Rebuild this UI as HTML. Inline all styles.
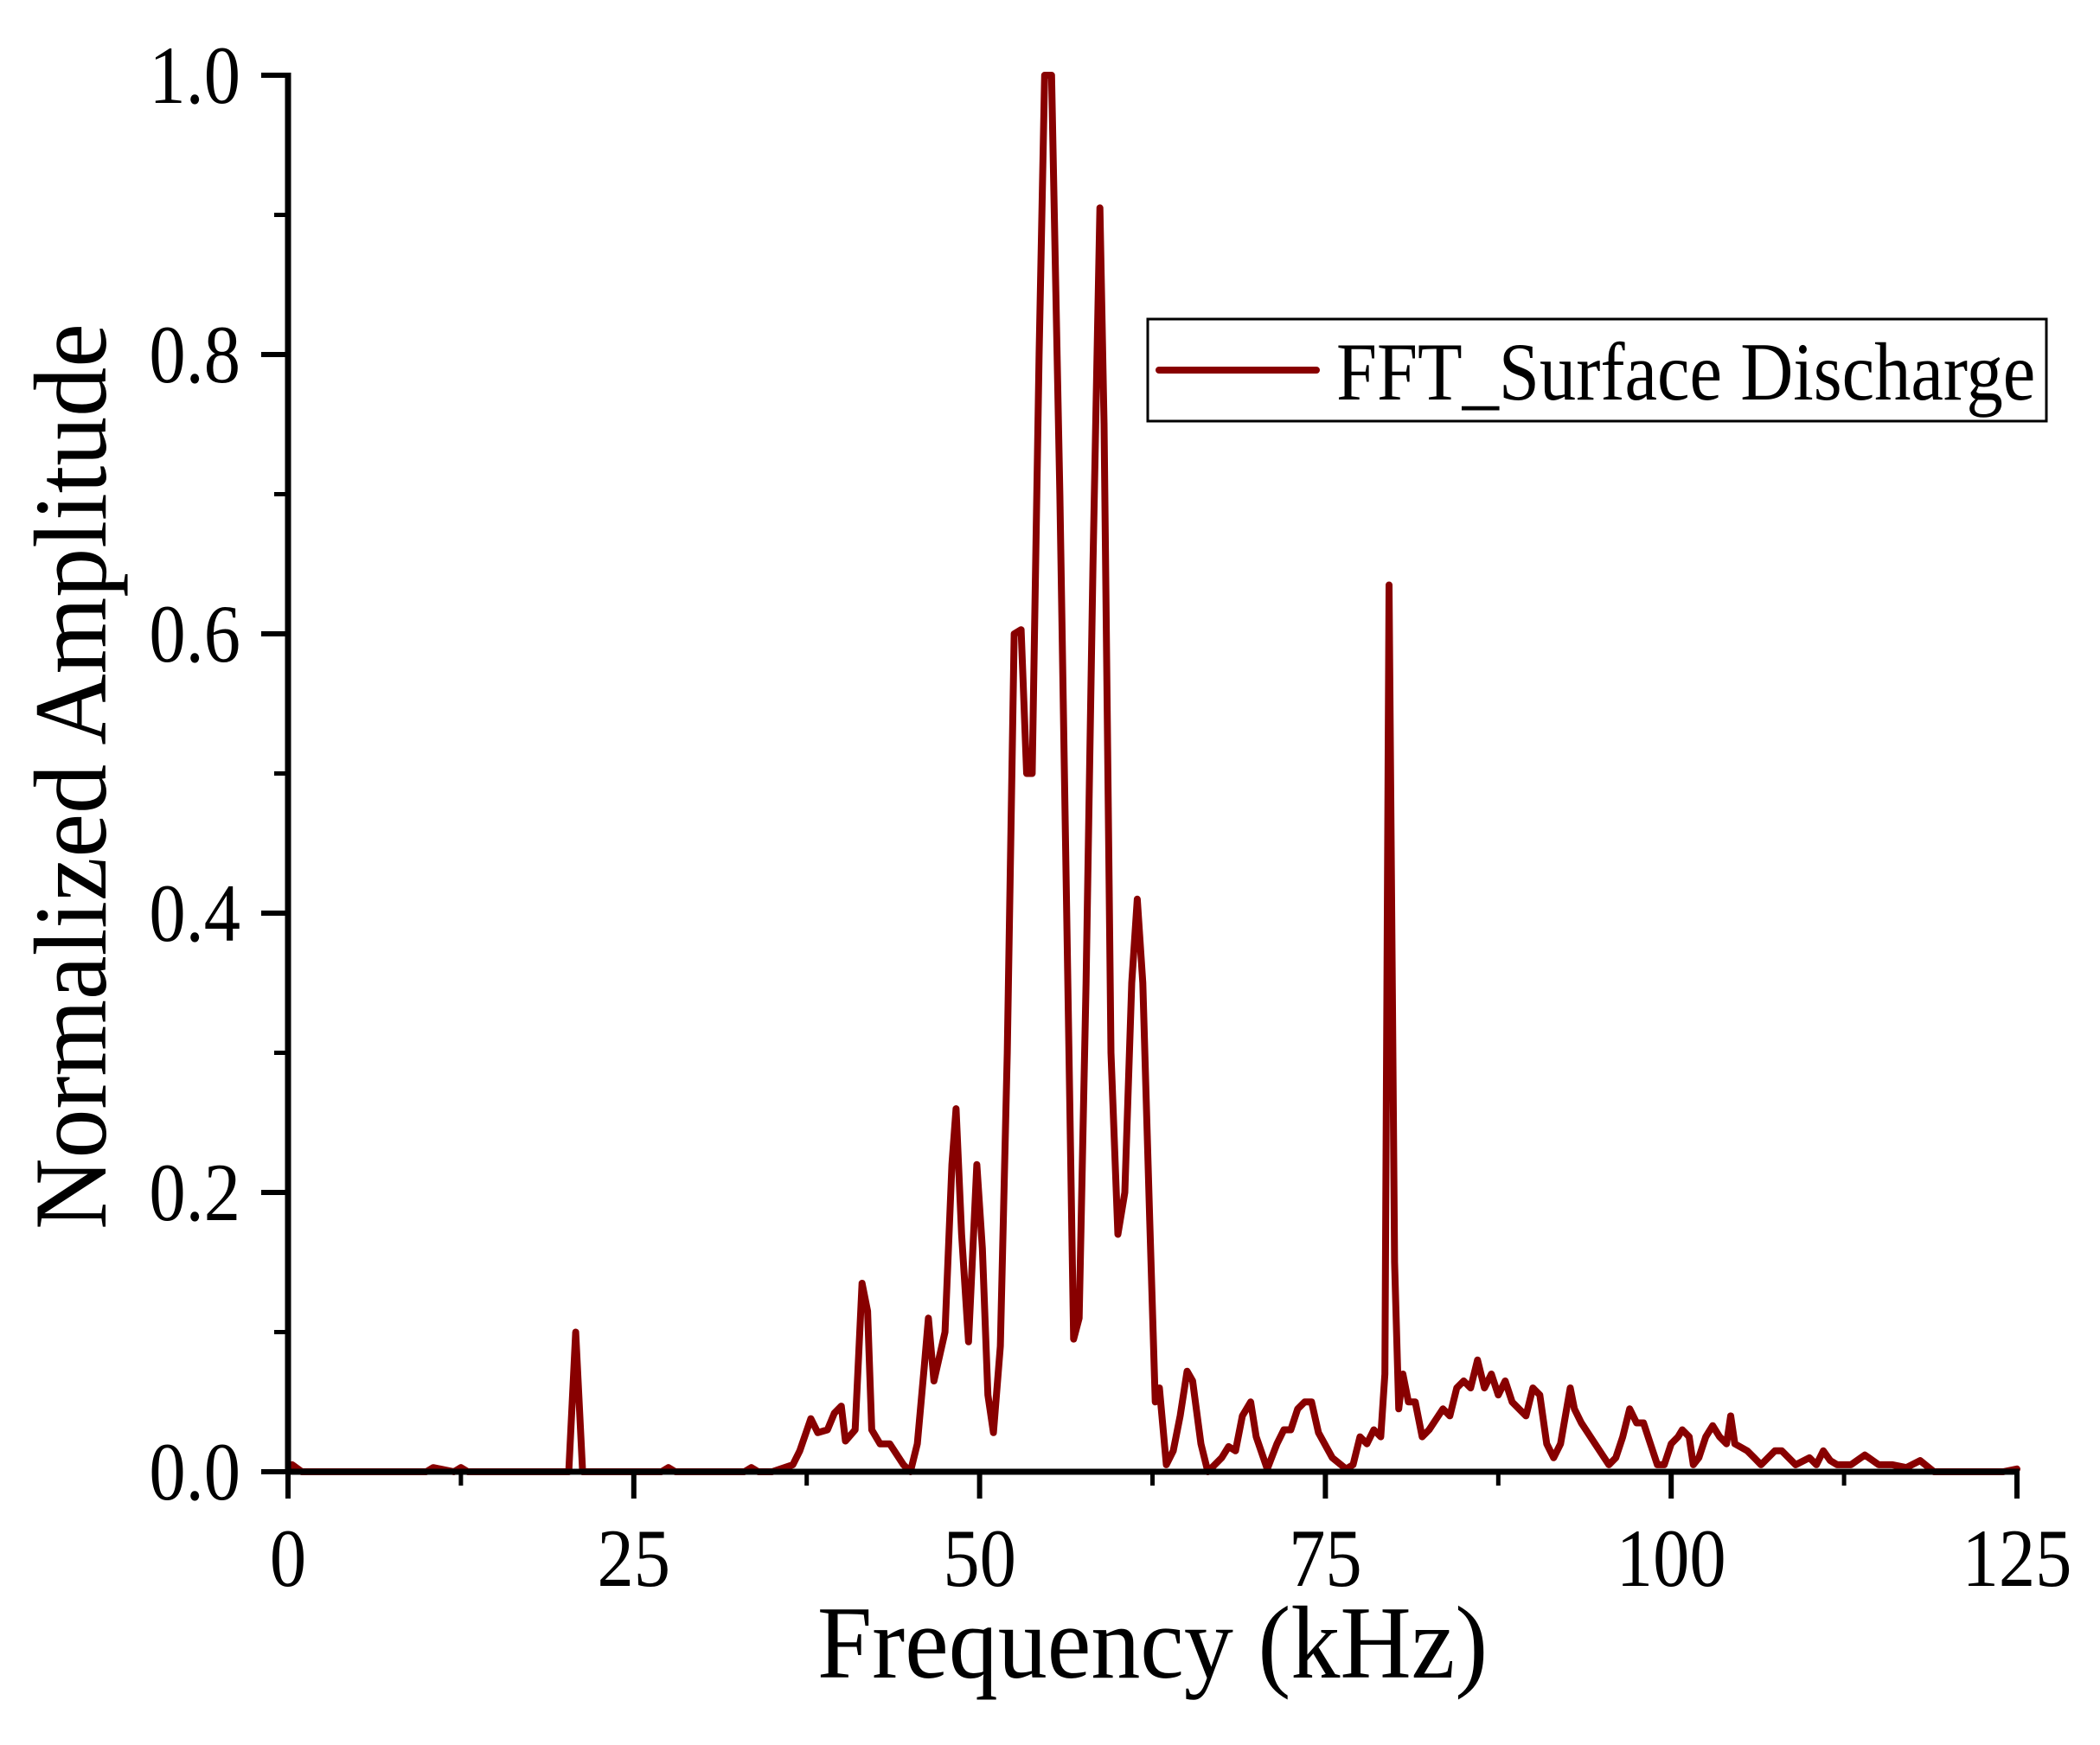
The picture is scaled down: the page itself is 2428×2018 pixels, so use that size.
<!DOCTYPE html>
<html><head><meta charset="utf-8"><style>
html,body{margin:0;padding:0;background:#fff;}
svg{display:block;}
text{font-family:"Liberation Serif",serif;fill:#000;}
</style></head><body>
<svg id="chart" width="2428" height="2018" viewBox="0 0 2428 2018"></svg>
<script>
const freqs=[0,0.3,1,10,10.5,12,12.5,13,20.3,20.8,21.3,27,27.5,28,33,33.5,34,35,36.5,37,37.8,38.3,39,39.5,40,40.3,41,41.5,41.9,42.2,42.8,43.5,44.5,45,45.5,46,46.3,46.7,47.5,48,48.3,48.7,49.2,49.8,50.2,50.6,51,51.5,52,52.5,53,53.4,53.8,54.3,54.7,55.2,55.8,56.3,56.8,57.2,57.7,58.2,58.7,59,59.5,60,60.5,61,61.4,61.8,62.3,62.7,63,63.5,64,64.5,65,65.4,66,66.5,67.5,68,68.5,69,69.6,70,70.8,71.5,72,72.5,73,73.5,74,74.5,75.5,76.5,77,77.5,78,78.5,79,79.3,79.6,80,80.3,80.6,81,81.5,82,82.5,83.5,84,84.5,85,85.5,86,86.5,87,87.5,88,88.5,89.5,90,90.5,91,91.5,92,92.7,93,93.5,94.5,95.5,96,96.5,97,97.5,98,98.5,99,99.5,100,100.5,100.8,101.3,101.6,102,102.5,103,103.5,104,104.3,104.6,105.5,106,106.5,107.5,108,109,110,110.5,111,111.5,112,113,114,115,116,117,118,119,124,125];
const amps=[0,0.005,0,0,0.003,0,0.003,0,0,0.10,0,0,0.003,0,0,0.003,0,0,0.005,0.015,0.038,0.028,0.03,0.042,0.047,0.022,0.03,0.135,0.115,0.03,0.02,0.02,0.005,0,0.02,0.075,0.11,0.065,0.1,0.22,0.26,0.17,0.093,0.22,0.16,0.055,0.028,0.09,0.3,0.6,0.603,0.5,0.5,0.8,1.0,1.0,0.7,0.4,0.095,0.11,0.35,0.65,0.905,0.75,0.3,0.17,0.2,0.35,0.41,0.35,0.18,0.05,0.06,0.005,0.015,0.04,0.072,0.065,0.02,0,0.01,0.018,0.015,0.04,0.05,0.025,0.002,0.02,0.03,0.03,0.045,0.05,0.05,0.028,0.01,0.002,0.005,0.025,0.02,0.03,0.025,0.07,0.635,0.15,0.045,0.07,0.05,0.05,0.025,0.03,0.045,0.04,0.06,0.065,0.06,0.08,0.06,0.07,0.055,0.065,0.05,0.04,0.06,0.055,0.02,0.01,0.02,0.06,0.045,0.035,0.02,0.005,0.01,0.025,0.045,0.035,0.035,0.02,0.005,0.005,0.02,0.025,0.03,0.025,0.005,0.01,0.025,0.033,0.025,0.02,0.04,0.02,0.015,0.01,0.005,0.015,0.015,0.005,0.01,0.005,0.015,0.008,0.005,0.005,0.012,0.005,0.005,0.003,0.008,0,0,0.002];
const xTicks=[0,25,50,75,100,125];
const xTickLabels=["0","25","50","75","100","125"];
const yTicks=[0,0.2,0.4,0.6,0.8,1.0];
const yTickLabels=["0.0","0.2","0.4","0.6","0.8","1.0"];

const NS="http://www.w3.org/2000/svg";
const svg=document.getElementById('chart');
const X0=333,X1=2332,Y0=1702,Y1=87;
const xs=v=>X0+(v-0)/(125-0)*(X1-X0);
const ys=v=>Y0-(v-0)/(1-0)*(Y0-Y1);
function mk(tag,attrs,parent){const e=document.createElementNS(NS,tag);for(const k in attrs)e.setAttribute(k,attrs[k]);(parent||svg).appendChild(e);return e;}

// series
let d='';
freqs.forEach((f,i)=>{d+=(i?'L':'M')+xs(f).toFixed(1)+' '+ys(amps[i]).toFixed(1);});
const path=mk('path',{d:d,fill:'none',stroke:'#880000','stroke-width':8,'stroke-linejoin':'round','stroke-linecap':'round'});



// axes
const xa=mk('line',{x1:X0-3,y1:Y0,x2:X1+3,y2:Y0,stroke:'#000','stroke-width':7});


const ya=mk('line',{x1:X0,y1:Y0+3,x2:X0,y2:Y1-3,stroke:'#000','stroke-width':7});



// x ticks
xTicks.forEach((t,i)=>{
  const l=mk('line',{x1:xs(t),y1:Y0,x2:xs(t),y2:Y0+31,stroke:'#000','stroke-width':6});
  
  
  const tx=mk('text',{x:0,y:0,'font-size':95,'text-anchor':'middle',transform:'translate('+xs(t)+',1834) scale(0.89,1)'});
  tx.textContent=xTickLabels[i];
  
  
  if(i<xTicks.length-1){
    const m=mk('line',{x1:xs(t+12.5),y1:Y0,x2:xs(t+12.5),y2:Y0+16,stroke:'#000','stroke-width':5});
    
    
  }
});
// y ticks
yTicks.forEach((t,i)=>{
  const l=mk('line',{x1:X0-31,y1:ys(t),x2:X0,y2:ys(t),stroke:'#000','stroke-width':6});
  
  
  const tx=mk('text',{x:0,y:0,'font-size':95,'text-anchor':'end',transform:'translate(278,'+(ys(t)+32)+') scale(0.89,1)'});
  tx.textContent=yTickLabels[i];
  
  
  if(i<yTicks.length-1){
    const m=mk('line',{x1:X0-16,y1:ys(t+0.1),x2:X0,y2:ys(t+0.1),stroke:'#000','stroke-width':5});
    
    
  }
});
// titles
const xt=mk('text',{x:0,y:0,'font-size':120,'text-anchor':'middle',transform:'translate('+((X0+X1)/2)+',1940) scale(0.95,1)'});
xt.textContent='Frequency (kHz)';


const yt=mk('text',{x:0,y:0,'font-size':120,'text-anchor':'middle',transform:'translate(122,898) rotate(-90) scale(0.95,1)'});
yt.textContent='Normalized Amplitude';



// legend
const lg=mk('g',{});


const box=mk('rect',{x:1327,y:369,width:1039,height:118,fill:'#fff',stroke:'#000','stroke-width':3},lg);


const ll=mk('line',{x1:1340,y1:428,x2:1522,y2:428,stroke:'#880000','stroke-width':8,'stroke-linecap':'round'},lg);


const lt=mk('text',{x:0,y:0,'font-size':95,transform:'translate(1545,462) scale(0.89,1)'},lg);
lt.textContent='FFT_Surface Discharge';


</script>
</body></html>
